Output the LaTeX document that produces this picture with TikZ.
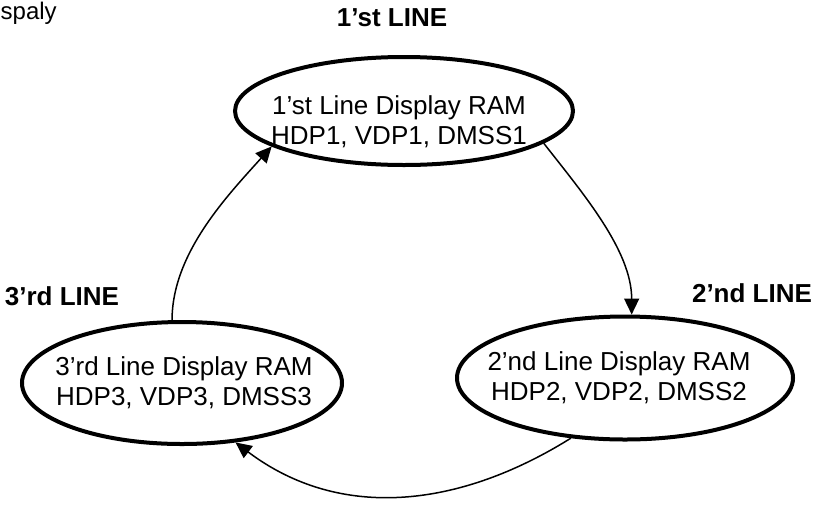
\documentclass[tikz,border=0pt]{standalone}
\usepackage{fontspec}
\setmainfont{Liberation Sans}
\usetikzlibrary{arrows.meta,shapes.geometric}
\tikzset{
ram/.style={draw,ellipse,line width=4pt,inner sep=0pt},
ramtext/.style={align=center,font=\fontsize{26}{30}\selectfont,inner sep=0pt},
tag/.style={font=\fontsize{26}{30}\selectfont\bfseries,inner sep=0pt},
arrow/.style={-{Triangle[length=16pt,width=15pt]},line width=1.5pt}
}
\begin{document}
\begin{tikzpicture}[x=1pt,y=-1pt]
\useasboundingbox (0,0) rectangle (818,504);
\node[anchor=base west,inner sep=0pt,font=\fontsize{24}{30}\selectfont] (cut) at (0.5,19) {spaly};
% the three display RAM states
\node[ram,minimum width=338pt,minimum height=108pt] (line1) at (404,111) {};
\node[ram,minimum width=336pt,minimum height=123pt] (line2) at (625,378) {};
\node[ram,minimum width=320pt,minimum height=122pt] (line3) at (182,383) {};
\node[ramtext] (txt1) at (399,122) {1’st Line Display RAM\\HDP1, VDP1, DMSS1};
\node[ramtext] (txt2) at (619,378) {2’nd Line Display RAM\\HDP2, VDP2, DMSS2};
\node[ramtext] (txt3) at (184,383) {3’rd Line Display RAM\\HDP3, VDP3, DMSS3};
\node[tag] (tag1) at (392,18) {1’st LINE};
\node[tag] (tag2) at (752,293) {2’nd LINE};
\node[tag] (tag3) at (62,296) {3’rd LINE};
\draw[arrow] (line1.-13) to[out=-52,in=90,looseness=0.85] (line2.84);
\draw[arrow] (line2.228) to[out=-148,in=-37] (line3.-48);
\draw[arrow] (line3.99) to[out=90,in=-132,looseness=0.85] (line1.195);
\end{tikzpicture}
\end{document}
